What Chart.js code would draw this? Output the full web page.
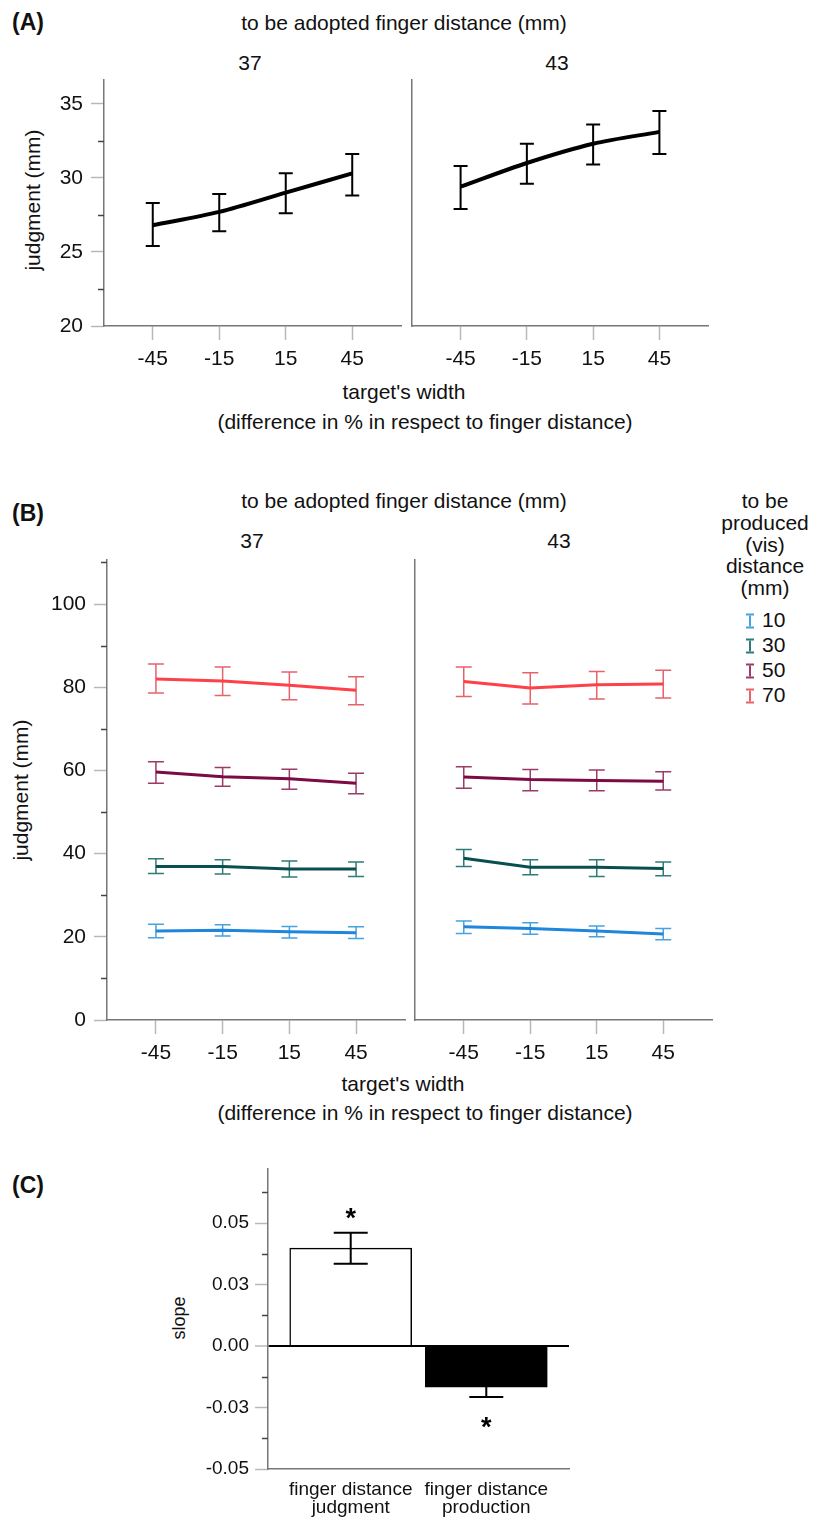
<!DOCTYPE html>
<html>
<head>
<meta charset="utf-8">
<script src="https://cdn.jsdelivr.net/npm/chart.js@4.4.0/dist/chart.umd.min.js"></script>
<style>
  body { margin: 0; background: #fff; }
  #page { position: relative; width: 813px; height: 1517px; overflow: hidden;
          font-family: 'Liberation Sans', Arial, sans-serif; color: #111; }
  canvas { position: absolute; }
  .t { position: absolute; white-space: nowrap; transform: translate(-50%, -50%);
       font-size: 21px; line-height: 1; }
  .rot { transform: translate(-50%, -50%) rotate(-90deg); }
  .panel { position: absolute; left: 12px; font-weight: bold; font-size: 23px;
           line-height: 1; transform: translateY(-50%); }
  .leg { position: absolute; left: 746px; font-size: 21px; line-height: 1;
         transform: translateY(-50%); white-space: nowrap; }
  .leg i { display: inline-block; width: 8px; height: 15px; box-sizing: border-box;
           border-top: 2px solid; border-bottom: 2px solid; margin-right: 8px;
           vertical-align: -2px; position: relative; }
  .leg i:after { content: ''; position: absolute; left: 3px; top: 0; bottom: 0;
                 border-left: 2px solid; }
</style>
</head>
<body>
<div id="page">
  <div class="panel" style="top:22px">(A)</div>
  <div class="t" style="left:404px;top:22px">to be adopted finger distance (mm)</div>
  <div class="t" style="left:250px;top:62px">37</div>
  <div class="t" style="left:557px;top:62px">43</div>
  <div class="t rot" style="left:32px;top:200px">judgment (mm)</div>
  <div class="t" style="left:404px;top:391px">target's width</div>
  <div class="t" style="left:425px;top:421px">(difference in % in respect to finger distance)</div>

  <div class="panel" style="top:513px">(B)</div>
  <div class="t" style="left:404px;top:500px">to be adopted finger distance (mm)</div>
  <div class="t" style="left:252px;top:540px">37</div>
  <div class="t" style="left:559px;top:540px">43</div>
  <div class="t rot" style="left:20px;top:790px">judgment (mm)</div>
  <div class="t" style="left:403px;top:1083px">target's width</div>
  <div class="t" style="left:425px;top:1112px">(difference in % in respect to finger distance)</div>
  <div id="legend"></div>

  <div class="panel" style="top:1185px">(C)</div>
  <div class="t rot" style="left:179px;top:1318px;font-size:18px">slope</div>

  <canvas id="a37" width="408" height="310" style="left:0;top:70px"></canvas>
  <canvas id="a43" width="310" height="310" style="left:405px;top:70px"></canvas>
  <canvas id="b37" width="412" height="520" style="left:0;top:550px"></canvas>
  <canvas id="b43" width="311" height="520" style="left:408px;top:550px"></canvas>
  <canvas id="cbar" width="580" height="358" style="left:0;top:1159px"></canvas>
</div>
<script>
// target's width categories (% difference)
const xVals = [-45, -15, 15, 45];

// panel A: judgment (mm), mean and error bar ends
const a37Mean = [26.8, 27.7, 29.0, 30.3];
const a37Lo = [25.4, 26.4, 27.6, 28.8];
const a37Hi = [28.3, 28.9, 30.3, 31.6];
const a43Mean = [29.4, 31.0, 32.3, 33.1];
const a43Lo = [27.9, 29.6, 30.9, 31.6];
const a43Hi = [30.8, 32.3, 33.6, 34.5];
const aTicks = [20, 25, 30, 35];

// panel B: one series per to-be-produced distance
const bLabels = ["10", "30", "50", "70"];
const b37Mean = [
  [21.4, 21.6, 21.2, 21.0],
  [36.9, 36.9, 36.3, 36.3],
  [59.6, 58.5, 58.0, 56.9],
  [82.0, 81.5, 80.5, 79.3]
];
const b37Lo = [
  [19.8, 20.2, 19.7, 19.6],
  [35.2, 35.1, 34.4, 34.5],
  [56.9, 56.2, 55.5, 54.4],
  [78.6, 78.0, 77.0, 75.8]
];
const b37Hi = [
  [23.0, 22.9, 22.5, 22.4],
  [38.8, 38.5, 38.2, 38.0],
  [62.1, 60.7, 60.3, 59.3],
  [85.6, 84.9, 83.7, 82.5]
];
const b43Mean = [
  [22.4, 22.0, 21.4, 20.7],
  [38.9, 36.7, 36.7, 36.4],
  [58.4, 57.8, 57.6, 57.4],
  [81.4, 79.8, 80.6, 80.8]
];
const b43Lo = [
  [20.8, 20.6, 20.0, 19.3],
  [36.9, 34.9, 34.5, 34.7],
  [55.7, 55.1, 55.1, 55.3],
  [77.8, 76.0, 77.2, 77.4]
];
const b43Hi = [
  [23.8, 23.4, 22.6, 22.0],
  [41.0, 38.5, 38.5, 38.0],
  [60.9, 60.2, 60.1, 59.7],
  [84.9, 83.5, 83.8, 84.1]
];
const bTicks = [0, 20, 40, 60, 80, 100];
const bLine = ["#1f86dc", "#0a4f50", "#7c0a45", "#ff4048"];
const bErr = ["#45a3e0", "#2f7b77", "#9a3b6a", "#e6636c"];

// panel C: slopes
const cCats = [["finger distance", "judgment"], ["finger distance", "production"]];
const cSlope = [0.0398, -0.0167];
const cLo = [0.0335, -0.0207];
const cHi = [0.0461, -0.0127];
const cSig = [true, true];
const cTicks = [-0.05, -0.025, 0, 0.025, 0.05];

Chart.defaults.font.family = "'Liberation Sans', Arial, sans-serif";
Chart.defaults.color = "#111";

function drawErrors(chart) {
  const ctx = chart.ctx;
  const xs = chart.scales.x, ys = chart.scales.y;
  chart.data.datasets.forEach(ds => {
    if (!ds.lo) return;
    ctx.save();
    ctx.strokeStyle = ds.errColor;
    ctx.lineWidth = ds.errWidth;
    ds.data.forEach((pt, j) => {
      const px = xs.getPixelForValue(pt.x);
      const y1 = ys.getPixelForValue(ds.lo[j]);
      const y2 = ys.getPixelForValue(ds.hi[j]);
      const h = ds.capW / 2;
      ctx.beginPath();
      ctx.moveTo(px, y1); ctx.lineTo(px, y2);
      ctx.moveTo(px - h, y1); ctx.lineTo(px + h, y1);
      ctx.moveTo(px - h, y2); ctx.lineTo(px + h, y2);
      ctx.stroke();
    });
    ctx.restore();
  });
}

const errorBars = {
  id: "errorBars",
  beforeDatasetsDraw(chart, args, opts) { if (!opts.after) drawErrors(chart); },
  afterDatasetsDraw(chart, args, opts) { if (opts.after) drawErrors(chart); }
};

// short dark ticks halfway between the labelled ones
const minorTicks = {
  id: "minorTicks",
  afterDraw(chart, args, opts) {
    if (!opts.major) return;
    const ys = chart.scales.y, ctx = chart.ctx;
    const step = opts.major[1] - opts.major[0];
    const left = chart.chartArea.left;
    ctx.save();
    ctx.strokeStyle = "#444";
    ctx.lineWidth = 1.5;
    for (let v = opts.major[0] + step / 2; v <= ys.max; v += step) {
      const py = Math.round(ys.getPixelForValue(v)) + 0.5;
      ctx.beginPath();
      ctx.moveTo(left - 6, py); ctx.lineTo(left, py);
      ctx.stroke();
    }
    ctx.restore();
  }
};

// fixed axis sizes so the plot areas land where the figure has them
function fixX(h) {
  return s => { s.height = h; s.paddingLeft = 0; s.paddingRight = 0; };
}
function fixY(w) {
  return s => { s.width = w; s.paddingTop = 0; s.paddingBottom = 0; };
}

function lineChart(id, sets, c) {
  return new Chart(document.getElementById(id), {
    type: "line",
    data: {
      datasets: sets.map(s => ({
        data: xVals.map((x, i) => ({ x: x, y: s.mean[i] })),
        lo: s.lo,
        hi: s.hi,
        borderColor: s.color,
        borderWidth: c.lineW,
        pointRadius: 0,
        tension: c.tension,
        errColor: s.errColor,
        errWidth: c.errW,
        capW: c.capW
      }))
    },
    options: {
      responsive: false,
      animation: false,
      devicePixelRatio: 1,
      layout: { padding: { top: 10, right: c.padRight, left: 0, bottom: 0 } },
      plugins: {
        legend: { display: false },
        tooltip: { enabled: false },
        errorBars: { after: false },
        minorTicks: { major: c.showY ? c.yTicks : null }
      },
      scales: {
        x: {
          type: "linear", min: -67, max: 67,
          afterBuildTicks: s => { s.ticks = xVals.map(v => ({ value: v })); },
          afterFit: fixX(c.xH),
          ticks: { font: { size: 21 }, color: "#111", padding: 7 },
          grid: { drawOnChartArea: false, tickLength: 14, tickColor: "#b8b8b8", tickWidth: 1.5 },
          border: { color: "#777", width: 1.5 }
        },
        y: {
          min: c.yMin, max: c.yMax,
          afterBuildTicks: s => { s.ticks = c.yTicks.map(v => ({ value: v })); },
          afterFit: fixY(c.leftW),
          ticks: { display: c.showY, font: { size: 21 }, color: "#111", padding: 8 },
          grid: { drawOnChartArea: false, drawTicks: c.showY, tickLength: 13, tickColor: "#b8b8b8", tickWidth: 1.5 },
          border: { color: "#777", width: 1.5 }
        }
      }
    },
    plugins: [errorBars, minorTicks]
  });
}

const aStyle = { lineW: 4, errW: 2, capW: 14, tension: 0.3, yMin: 20, yMax: 36.6, yTicks: aTicks, xH: 54 };
lineChart("a37", [{ mean: a37Mean, lo: a37Lo, hi: a37Hi, color: "#000", errColor: "#000" }],
  Object.assign({}, aStyle, { showY: true, leftW: 104, padRight: 7 }));
lineChart("a43", [{ mean: a43Mean, lo: a43Lo, hi: a43Hi, color: "#000", errColor: "#000" }],
  Object.assign({}, aStyle, { showY: false, leftW: 7, padRight: 7 }));

function bSets(mean, lo, hi) {
  return bLabels.map((l, k) => ({ mean: mean[k], lo: lo[k], hi: hi[k], color: bLine[k], errColor: bErr[k] }));
}
const bStyle = { lineW: 3, errW: 1.5, capW: 16, tension: 0, yMin: 0, yMax: 110.6, yTicks: bTicks, xH: 50 };
lineChart("b37", bSets(b37Mean, b37Lo, b37Hi), Object.assign({}, bStyle, { showY: true, leftW: 107, padRight: 7 }));
lineChart("b43", bSets(b43Mean, b43Lo, b43Hi), Object.assign({}, bStyle, { showY: false, leftW: 7, padRight: 7 }));

// legend for panel B
const legTitle = ["to be", "produced", "(vis)", "distance", "(mm)"];
const legendEl = document.getElementById("legend");
legTitle.forEach((s, i) => {
  const d = document.createElement("div");
  d.className = "t";
  d.style.left = "765px";
  d.style.top = (500 + i * 21.8) + "px";
  d.textContent = s;
  legendEl.appendChild(d);
});
bLabels.forEach((s, k) => {
  const d = document.createElement("div");
  d.className = "leg";
  d.style.top = (619 + k * 25) + "px";
  d.innerHTML = '<i style="color:' + bErr[k] + '"></i>' + s;
  legendEl.appendChild(d);
});

// asterisks above/below significant bars
const stars = {
  id: "stars",
  afterDatasetsDraw(chart) {
    const ctx = chart.ctx, xs = chart.scales.x, ys = chart.scales.y;
    ctx.save();
    ctx.font = "bold 27px 'Liberation Sans', Arial, sans-serif";
    ctx.fillStyle = "#000";
    ctx.textAlign = "center";
    ctx.textBaseline = "alphabetic";
    cSlope.forEach((v, i) => {
      if (!cSig[i]) return;
      const px = xs.getPixelForValue(i);
      const cy = v > 0 ? ys.getPixelForValue(cHi[i]) - 21 : ys.getPixelForValue(cLo[i]) + 23;
      ctx.fillText("*", px, cy + 0.58 * 27);
    });
    ctx.restore();
  }
};

new Chart(document.getElementById("cbar"), {
  type: "bar",
  data: {
    datasets: [{
      data: cSlope.map((v, i) => ({ x: i, y: v })),
      backgroundColor: ["#fff", "#000"],
      borderColor: "#000",
      borderWidth: 1.5,
      barThickness: 122,
      lo: cLo,
      hi: cHi,
      errColor: "#000",
      errWidth: 2,
      capW: 34
    }]
  },
  options: {
    responsive: false,
    animation: false,
    devicePixelRatio: 1,
    layout: { padding: { top: 10, right: 11, left: 0, bottom: 0 } },
    plugins: {
      legend: { display: false },
      tooltip: { enabled: false },
      errorBars: { after: true },
      minorTicks: { major: cTicks }
    },
    scales: {
      x: {
        type: "linear", min: -0.61, max: 1.61, offset: false,
        afterBuildTicks: s => { s.ticks = cCats.map((c, i) => ({ value: i })); },
        afterFit: fixX(48),
        ticks: { font: { size: 19, lineHeight: 0.95 }, color: "#111", padding: 4,
                 callback: v => cCats[v] },
        grid: { display: false },
        border: { color: "#777", width: 1.5 }
      },
      y: {
        min: -0.05, max: 0.072, z: 1,
        afterBuildTicks: s => { s.ticks = cTicks.map(v => ({ value: v })); },
        afterFit: fixY(268),
        ticks: { font: { size: 19 }, color: "#111", padding: 6, callback: v => v.toFixed(2) },
        grid: {
          drawOnChartArea: true, tickLength: 13, tickColor: "#b8b8b8", tickWidth: 1.5,
          color: c => (c.tick && c.tick.value === 0 ? "#000" : "rgba(0,0,0,0)"),
          lineWidth: c => (c.tick && c.tick.value === 0 ? 2 : 1)
        },
        border: { color: "#777", width: 1.5 }
      }
    }
  },
  plugins: [errorBars, minorTicks, stars]
});
</script>
</body>
</html>
